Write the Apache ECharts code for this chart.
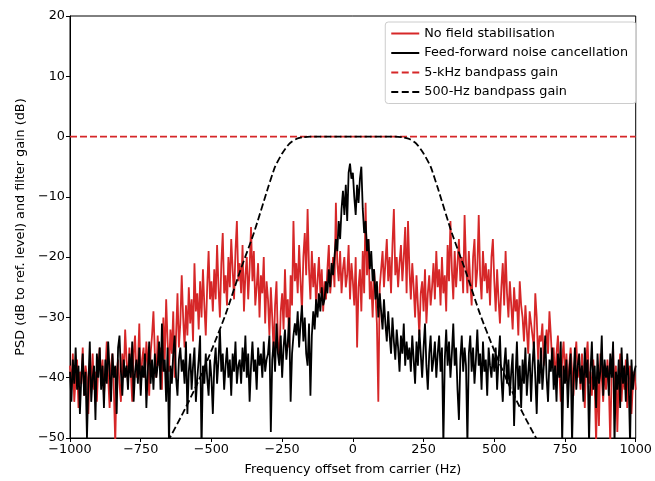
<!DOCTYPE html>
<html>
<head>
<meta charset="utf-8">
<script src="https://cdn.jsdelivr.net/npm/echarts@6/dist/echarts.min.js"></script>
<style>
  html, body { margin: 0; padding: 0; background: #fff; }
  #chart { width: 655px; height: 481px; }
</style>
</head>
<body>
<div id="chart"></div>
<script>
const freqStart = -1000;
const freqStep = 5;

const noStabilisation = [
  -38,-42,-36,-44,-40,-37,-45,-39,-41,-35,-43,-38,-40,-46,-37,-41,-36,-42,-39,-44,
  -38,-35,-41,-37,-43,-39,-34,-40,-45,-38,-36,-42,-51,-39,-37,-41,-44,-36,-40,-32,
  -37,-41,-35,-39,-44,-36,-33,-40,-38,-31,-42,-37,-35,-40,-34,-38,-43,-36,-33,-29,
  -36,-40,-33,-38,-35,-42,-30,-37,-27,-34,-39,-32,-36,-29,-40,-33,-26,-35,-31,-23,
  -30,-35,-28,-33,-25,-31,-27,-34,-21,-29,-26,-32,-24,-30,-22,-28,-33,-25,-19,-27,
  -24,-29,-22,-27,-18,-25,-30,-21,-16,-26,-23,-28,-20,-25,-17,-22,-27,-19,-14,-24,
  -21,-26,-18,-29,-23,-20,-27,-22,-15,-24,-19,-28,-25,-21,-30,-23,-26,-20,-31,-24,
  -27,-33,-25,-30,-36,-28,-24,-34,-37,-29,-26,-32,-22,-30,-27,-35,-23,-28,-14,-24,
  -21,-26,-18,-24,-29,-20,-16,-23,-12,-22,-27,-19,-25,-21,-28,-24,-20,-26,-22,-29,
  -24,-27,-22,-18,-26,-23,-20,-25,-11,-21,-24,-19,-26,-22,-20,-25,-23,-18,-27,-21,
  -24,-28,-20,-35,-25,-22,-29,-19,-26,-11,-23,-17,-27,-24,-30,-22,-26,-31,-44,-25,
  -22,-19,-25,-21,-17,-24,-20,-26,-18,-12,-23,-20,-25,-21,-18,-24,-20,-15,-26,-14,
  -22,-27,-21,-25,-30,-23,-28,-33,-26,-24,-29,-22,-31,-26,-23,-28,-25,-21,-27,-19,
  -25,-22,-28,-20,-26,-23,-29,-18,-24,-14,-22,-27,-19,-25,-21,-17,-24,-20,-26,-13,
  -21,-26,-19,-24,-28,-20,-17,-25,-22,-13,-23,-27,-19,-24,-21,-26,-22,-28,-20,-17,
  -24,-29,-22,-27,-31,-25,-21,-28,-19,-26,-30,-24,-28,-32,-25,-29,-27,-33,-24,-28,
  -30,-34,-28,-32,-36,-29,-31,-33,-35,-26,-30,-37,-33,-34,-31,-38,-35,-32,-36,-29,
  -33,-38,-35,-41,-36,-33,-39,-44,-37,-34,-40,-36,-42,-38,-35,-39,-43,-37,-34,-40,
  -38,-42,-36,-40,-45,-37,-34,-41,-39,-43,-37,-41,-51,-39,-48,-36,-40,-44,-38,-42,
  -37,-41,-51,-39,-35,-43,-38,-49,-40,-36,-44,-39,-42,-37,-45,-40,-38,-46,-41,-39,
  -42
];

const feedForward = [
  -39,-44,-37,-41,-35,-42,-38,-46,-40,-36,-43,-39,-50,-41,-34,-44,-40,-38,-47,-36,
  -40,-35,-42,-38,-45,-37,-41,-34,-39,-44,-36,-40,-38,-46,-35,-33,-39,-43,-37,-40,
  -38,-42,-36,-40,-34,-44,-39,-37,-41,-35,-43,-38,-40,-36,-45,-39,-34,-41,-37,-42,
  -36,-40,-38,-34,-42,-31,-39,-37,-44,-35,-51,-38,-41,-36,-33,-40,-43,-37,-35,-39,
  -37,-41,-34,-46,-39,-36,-42,-38,-35,-44,-40,-37,-33,-52,-38,-41,-36,-40,-43,-37,
  -40,-46,-38,-35,-41,-37,-32,-39,-36,-42,-38,-35,-40,-37,-43,-36,-39,-34,-41,-38,
  -37,-41,-35,-39,-33,-40,-36,-44,-38,-34,-39,-37,-42,-35,-38,-36,-40,-34,-39,-37,
  -36,-33,-49,-37,-34,-39,-31,-36,-38,-33,-40,-35,-32,-37,-34,-30,-44,-36,-33,-31,
  -33,-29,-35,-31,-28,-34,-30,-36,-38,-31,-43,-33,-29,-32,-27,-30,-26,-29,-25,-28,
  -27,-24,-26,-22,-25,-21,-23,-20,-17,-19,-14,-17,-12,-9,-13,-8,-14,-6,-4.5,-7,
  -6,-10,-13,-8,-11,-7,-5,-12,-16,-14,-19,-17,-22,-19,-24,-22,-27,-24,-30,-26,
  -29,-32,-27,-31,-34,-29,-33,-36,-30,-34,-37,-32,-35,-39,-33,-36,-31,-38,-34,-37,
  -35,-39,-33,-37,-41,-34,-38,-32,-36,-40,-35,-31,-38,-42,-36,-33,-39,-37,-34,-40,
  -36,-33,-39,-35,-51,-37,-32,-38,-34,-40,-36,-31,-38,-35,-42,-47,-37,-33,-39,-35,
  -38,-51,-36,-33,-39,-35,-41,-37,-32,-38,-36,-42,-34,-39,-37,-43,-35,-38,-40,-36,
  -39,-35,-42,-37,-33,-40,-44,-38,-35,-41,-37,-43,-39,-36,-48,-40,-34,-42,-38,-45,
  -37,-41,-35,-43,-39,-36,-44,-38,-34,-40,-46,-37,-41,-35,-42,-38,-33,-40,-44,-37,
  -39,-35,-42,-38,-44,-36,-40,-34,-51,-38,-41,-37,-45,-39,-36,-51,-40,-35,-42,-38,
  -36,-41,-38,-44,-35,-40,-37,-51,-39,-34,-42,-38,-45,-36,-41,-39,-33,-43,-37,-40,
  -38,-43,-36,-40,-34,-51,-39,-42,-37,-45,-35,-41,-38,-44,-36,-40,-51,-37,-42,-39,
  -38
];

// filter gains
const wideGainFreq = [-1000, 1000];
const wideGainDb = [0, 0];

const narrowGainFreq = [-675, -650, -600, -550, -500, -450, -400, -350, -300, -275, -250, -225, -200, -175, -150,
  150, 175, 200, 225, 250, 275, 300, 350, 400, 450, 500, 550, 600, 650, 675];
const narrowGainDb = [-52, -50.2, -45.8, -41, -35.5, -29.5, -22.5, -16, -8.5, -5, -2.8, -1.2, -0.4, -0.1, 0,
  0, -0.1, -0.4, -1.2, -2.8, -5, -8.5, -16, -22.5, -29.5, -35.5, -41, -45.8, -50.2, -52];

const seriesNames = ['No field stabilisation', 'Feed-forward noise cancellation',
  '5-kHz bandpass gain', '500-Hz bandpass gain'];

function pairs(xs, ys) {
  return ys.map((y, i) => [xs[i], y]);
}
const freqs = noStabilisation.map((v, i) => freqStart + i * freqStep);

const font = 'DejaVu Sans, sans-serif';
const minus = v => String(v).replace('-', '\u2212');

// legend samples: plain line or matplotlib-like dashes
const solidIcon = 'path://M0,0h28v2h-28z';
const dashIcon = 'path://M0,0h7v2h-7z M10.5,0h7v2h-7z M21,0h7v2h-7z';

const chart = echarts.init(document.getElementById('chart'), null, { renderer: 'canvas' });

const option = {
  animation: false,
  backgroundColor: '#fff',
  grid: { left: 70, right: 15, top: 16, bottom: 40, show: true, borderColor: '#000', borderWidth: 1 },
  legend: {
    orient: 'vertical',
    right: 19,
    top: 22,
    data: [
      { name: seriesNames[0], icon: solidIcon },
      { name: seriesNames[1], icon: solidIcon },
      { name: seriesNames[2], icon: dashIcon },
      { name: seriesNames[3], icon: dashIcon }
    ],
    itemWidth: 28,
    itemHeight: 12,
    itemGap: 6.5,
    padding: [5, 8, 5, 6],
    borderColor: '#ccc',
    borderWidth: 1,
    borderRadius: 3,
    backgroundColor: 'rgba(255,255,255,0.8)',
    textStyle: { fontFamily: font, fontSize: 12.8, color: '#000' }
  },
  xAxis: {
    type: 'value',
    min: -1000,
    max: 1000,
    interval: 250,
    name: 'Frequency offset from carrier (Hz)',
    nameLocation: 'middle',
    nameGap: 25,
    nameTextStyle: { fontFamily: font, fontSize: 12.8, color: '#000' },
    axisLine: { onZero: false, lineStyle: { color: '#000' } },
    axisTick: { length: 4, lineStyle: { color: '#000' } },
    axisLabel: { fontFamily: font, fontSize: 12.8, color: '#000', margin: 5, formatter: minus },
    splitLine: { show: false }
  },
  yAxis: {
    type: 'value',
    min: -50,
    max: 20,
    interval: 10,
    name: 'PSD (dB to ref. level) and filter gain (dB)',
    nameLocation: 'middle',
    nameGap: 43,
    nameTextStyle: { fontFamily: font, fontSize: 12.8, color: '#000' },
    axisLine: { onZero: false, lineStyle: { color: '#000' } },
    axisTick: { length: 4, lineStyle: { color: '#000' } },
    axisLabel: { fontFamily: font, fontSize: 12.8, color: '#000', margin: 5, formatter: minus },
    splitLine: { show: false }
  },
  series: [
    {
      name: seriesNames[0],
      type: 'line',
      symbol: 'none',
      clip: true,
      data: pairs(freqs, noStabilisation),
      color: '#d62728',
      lineStyle: { color: '#d62728', width: 1.8 }
    },
    {
      name: seriesNames[1],
      type: 'line',
      symbol: 'none',
      clip: true,
      data: pairs(freqs, feedForward),
      color: '#000',
      lineStyle: { color: '#000', width: 1.8 }
    },
    {
      name: seriesNames[2],
      type: 'line',
      symbol: 'none',
      clip: true,
      data: pairs(wideGainFreq, wideGainDb),
      color: '#d62728',
      lineStyle: { color: '#d62728', width: 1.8, type: [7, 3] }
    },
    {
      name: seriesNames[3],
      type: 'line',
      symbol: 'none',
      clip: true,
      smooth: 0.2,
      data: pairs(narrowGainFreq, narrowGainDb),
      color: '#000',
      lineStyle: { color: '#000', width: 1.8, type: [7, 3] }
    }
  ]
};

chart.setOption(option);
</script>
</body>
</html>
